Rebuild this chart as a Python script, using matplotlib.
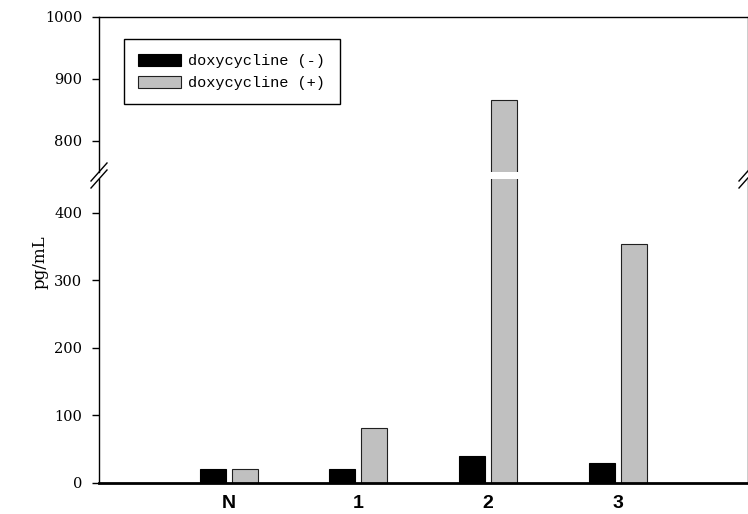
import matplotlib
matplotlib.use("Agg")
import matplotlib.pyplot as plt
import numpy as np

categories = ["N", "1", "2", "3"]
dox_minus = [20, 20, 40, 30]
dox_plus = [20, 82, 866, 354]
series_labels = ["doxycycline (-)", "doxycycline (+)"]
upper_ticks = [800, 900, 1000]
lower_ticks = [0, 100, 200, 300, 400]

fig = plt.figure(figsize=(7.48, 5.14), dpi=100)
W, H = 748, 514
left, right = 99 / W, 747.5 / W
ax_up = fig.add_axes([left, 1 - 172 / H, right - left, (172 - 17) / H])
ax_lo = fig.add_axes([left, 1 - 483 / H, right - left, (483 - 179) / H])

x = np.arange(1, len(categories) + 1)
bw = 0.2
off = 0.123
for ax in (ax_up, ax_lo):
    ax.bar(x - off, dox_minus, bw, color="black", edgecolor="black", linewidth=0.8, label=series_labels[0])
    ax.bar(x + off, dox_plus, bw, color="#c0c0c0", edgecolor="#202020", linewidth=0.8, label=series_labels[1])
    ax.set_xlim(0, 5)
    ax.tick_params(axis="y", direction="out", length=5, width=1, labelsize=10.5, pad=7)
    for s in ax.spines.values():
        s.set_linewidth(1)

ax_up.set_ylim(750, 1000)
ax_up.set_yticks(upper_ticks)
ax_up.spines["bottom"].set_visible(False)
ax_up.tick_params(axis="x", bottom=False, labelbottom=False)

ax_lo.set_ylim(0, 450)
ax_lo.set_yticks(lower_ticks)
ax_lo.spines["top"].set_visible(False)
ax_lo.spines["bottom"].set_linewidth(2)
ax_lo.set_xticks(x)
ax_lo.set_xticklabels(categories, fontfamily="Liberation Sans", fontweight="bold", fontsize=14)
ax_lo.tick_params(axis="x", length=0, pad=9)

for ax in (ax_up, ax_lo):
    for lab in ax.get_yticklabels():
        lab.set_fontfamily("DejaVu Serif")

# break marks
for xpix in (99, 747):
    for ypix in (172, 179):
        fig.add_artist(plt.Line2D([(xpix - 8) / W, (xpix + 8) / W],
                                  [1 - (ypix + 9) / H, 1 - (ypix - 9) / H],
                                  color="black", linewidth=1, transform=fig.transFigure))

fig.text(40 / W, 1 - 262 / H, "pg/mL", rotation=90, ha="center", va="center",
         fontfamily="DejaVu Serif", fontsize=12)

leg = ax_up.legend(loc="upper left", bbox_to_anchor=((124 - 99) / (748 - 99), 1 - (39 - 17) / 155),
                   prop={"family": "Liberation Mono", "size": 11}, frameon=True, fancybox=False,
                   edgecolor="black", framealpha=1, handlelength=2.8, handleheight=0.85,
                   borderpad=0.95, labelspacing=0.5, handletextpad=0.45, borderaxespad=0)
leg.get_frame().set_linewidth(1)

fig.savefig("out.png", dpi=100)
